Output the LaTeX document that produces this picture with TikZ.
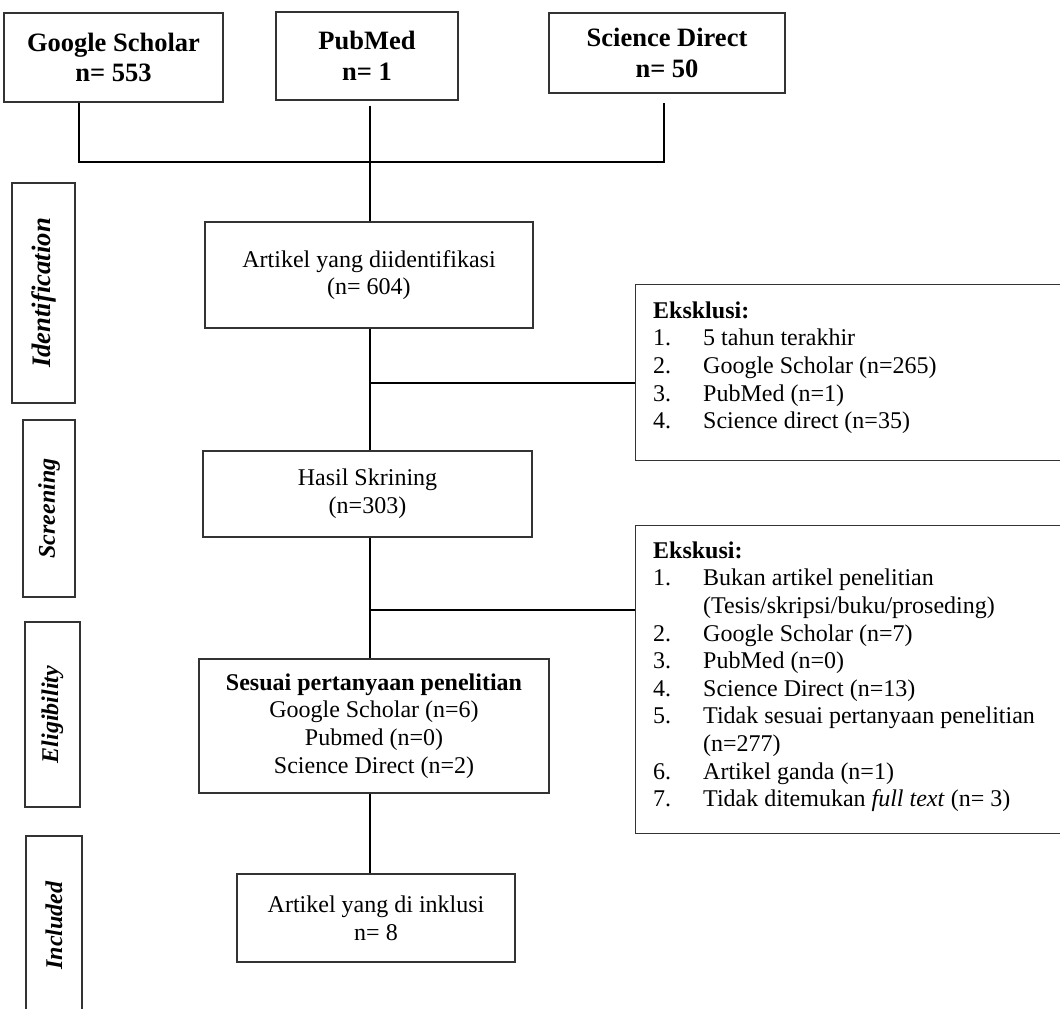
\documentclass[tikz,border=0pt]{standalone}
\usepackage{fontspec}
\setmainfont{Liberation Serif}
\definecolor{boxgray}{HTML}{333333}
\newcommand{\mybody}{\fontsize{24pt}{27.6pt}\selectfont}
\newcommand{\mytop}{\fontsize{26.5pt}{30.5pt}\selectfont}
\begin{document}
\begin{tikzpicture}[x=1pt,y=-1pt,
  box/.style={draw=boxgray, line width=1.3pt, inner sep=0pt, align=center, font=\mybody},
  topbox/.style={box, font=\mytop\bfseries},
  side/.style={draw=boxgray, line width=1.3pt, inner sep=0pt, rotate=90, font=\mybody\bfseries\itshape},
  listtext/.style={inner sep=0pt, anchor=north west, align=left, font=\mybody},
  conn/.style={line width=2.4pt, black, line join=miter},
]
\useasboundingbox (0,0) rectangle (1060,1009);
\clip (0,0) rectangle (1060,1009);

% top source boxes
\node[topbox, minimum width=219pt, minimum height=89pt] (gs) at (113.5,57.5) {Google Scholar\\n= 553};
\node[topbox, minimum width=182pt, minimum height=88pt] (pm) at (367,56) {PubMed\\n= 1};
\node[topbox, minimum width=236pt, minimum height=80pt] (sd) at (667,53) {Science Direct\\n= 50};

% main flow boxes
\node[box, minimum width=328pt, minimum height=106pt] (art) at (369,275) {Artikel yang diidentifikasi\\(n= 604)};
\node[box, minimum width=329pt, minimum height=86pt] (has) at (367.5,494) {Hasil Skrining\\(n=303)};
\node[box, minimum width=350pt, minimum height=134pt] (ses) at (374,726) {\textbf{Sesuai pertanyaan penelitian}\\Google Scholar (n=6)\\Pubmed (n=0)\\Science Direct (n=2)};
\node[box, minimum width=278pt, minimum height=88pt] (ink) at (376,918) {Artikel yang di inklusi\\n= 8};

% side stage labels
\node[side, font=\fontsize{26.7pt}{30pt}\selectfont\bfseries\itshape, minimum width=220pt, minimum height=63pt] (sid) at (43.5,293) {Identification};
\node[side, minimum width=177pt, minimum height=52pt] (ssc) at (49,508.5) {Screening};
\node[side, minimum width=185pt, minimum height=55pt] (sel) at (52.5,714.5) {Eligibility};
\node[side, minimum width=179pt, minimum height=56pt] (sin) at (54,925.5) {Included};

% exclusion boxes
\node[draw=boxgray, line width=1.3pt, inner sep=0pt, anchor=north west, minimum width=427pt, minimum height=176pt] (eks1) at (635,284) {};
\node[listtext] (eks1t) at (653,298) {\rule{0pt}{20pt}\textbf{Eksklusi:}\\
\makebox[50pt][l]{1.}5 tahun terakhir\\
\makebox[50pt][l]{2.}Google Scholar (n=265)\\
\makebox[50pt][l]{3.}PubMed (n=1)\\
\makebox[50pt][l]{4.}Science direct (n=35)};

\node[draw=boxgray, line width=1.3pt, inner sep=0pt, anchor=north west, minimum width=427pt, minimum height=308pt] (eks2) at (635,525) {};
\node[listtext] (eks2t) at (653,538) {\rule{0pt}{20pt}\textbf{Ekskusi:}\\
\makebox[50pt][l]{1.}Bukan artikel penelitian\\
\hspace*{50pt}(Tesis/skripsi/buku/proseding)\\
\makebox[50pt][l]{2.}Google Scholar (n=7)\\
\makebox[50pt][l]{3.}PubMed (n=0)\\
\makebox[50pt][l]{4.}Science Direct (n=13)\\
\makebox[50pt][l]{5.}Tidak sesuai pertanyaan penelitian\\
\hspace*{50pt}(n=277)\\
\makebox[50pt][l]{6.}Artikel ganda (n=1)\\
\makebox[50pt][l]{7.}Tidak ditemukan \textit{full text} (n= 3)};

% junction coordinates
\coordinate (j1) at (79,162);
\coordinate (j3) at (664,162);
\coordinate (spine) at (370,0);
\coordinate (b1) at (370,383);
\coordinate (b2) at (370,610);

% connectors
\draw[conn, shorten >=9pt] (gs.south -| j1) -- (j1) -- (j3) -- (sd.south -| j3);
\draw[conn, shorten <=5pt] (pm.south -| spine) -- (art.north -| spine);
\draw[conn] (art.south -| spine) -- (has.north -| spine);
\draw[conn] (b1) -- (b1 -| eks1.west);
\draw[conn] (has.south -| spine) -- (ses.north -| spine);
\draw[conn] (b2) -- (b2 -| eks2.west);
\draw[conn] (ses.south -| spine) -- (ink.north -| spine);
\end{tikzpicture}
\end{document}
